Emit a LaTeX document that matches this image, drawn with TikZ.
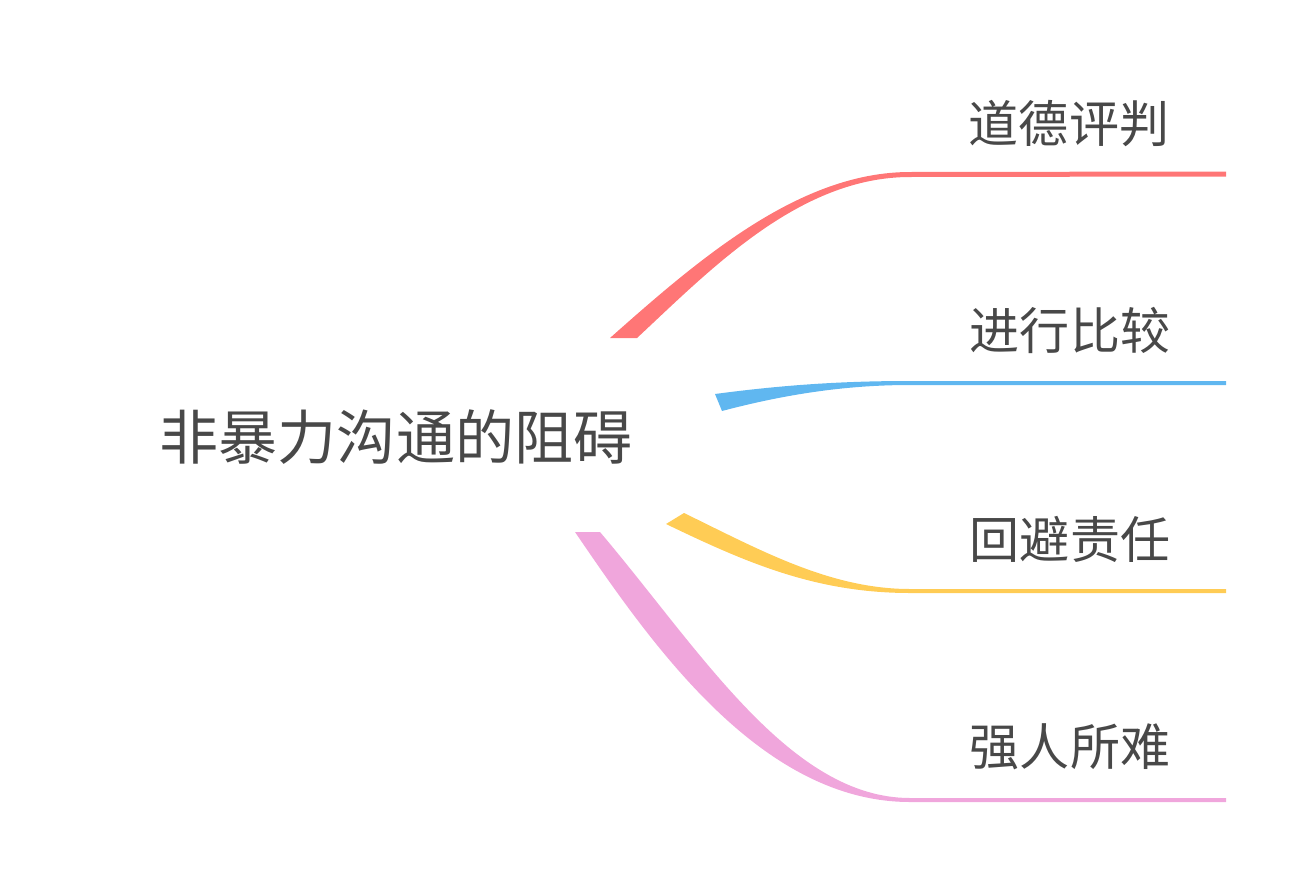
\documentclass[tikz,border=0pt]{standalone}
\usepackage{fontspec}
\setmainfont{Noto Sans CJK SC}
\usepackage{xcolor}
\usetikzlibrary{positioning}

\definecolor{txtgray}{HTML}{484848}
\definecolor{brred}{HTML}{FF7676}
\definecolor{brblue}{HTML}{60B7F0}
\definecolor{bryellow}{HTML}{FFCC55}
\definecolor{brpink}{HTML}{F0A6DC}

\begin{document}
\begin{tikzpicture}[
    x=0.03cm, y=-0.03cm,
    root/.style={inner sep=0pt, text=txtgray, font=\fontsize{50.4pt}{52pt}\selectfont},
    leaf/.style={inner sep=0pt, text=txtgray, font=\fontsize{42.7pt}{44pt}\selectfont},
    ribbon/.style={fill=#1, draw=none}
]
    \useasboundingbox (0,0) rectangle (1295,869);

    \node[root] (center) at (396,437) {非暴力沟通的阻碍};
    \node[leaf] (moral) at (1069,124) {道德评判};
    \node[leaf] (compare) at (1070,330) {进行比较};
    \node[leaf] (avoid) at (1070,539) {回避责任};
    \node[leaf] (force) at (1070,747) {强人所难};

    % ends of the branch lines under each label
    \coordinate (moralend) at (1226,174);
    \coordinate (compareend) at (1226,383);
    \coordinate (avoidend) at (1226,591);
    \coordinate (forceend) at (1226,800);

    % tapered branches
    \fill[ribbon=brred] (610,338) .. controls (700,258) and (800,172) .. (910,172)
        -- ([yshift=2.5*0.03cm]moralend) -- ([yshift=-2.5*0.03cm]moralend) -- (910,177)
        .. controls (800,177) and (712,268) .. (637,338) -- cycle;
    \fill[ribbon=brblue] (715,394) .. controls (790,384) and (850,381) .. (910,381)
        -- ([yshift=2*0.03cm]compareend) -- ([yshift=-2*0.03cm]compareend) -- (910,385)
        .. controls (850,385) and (790,393) .. (722,411) -- cycle;
    \fill[ribbon=bryellow] (684,513) .. controls (760,550) and (830,589) .. (910,589)
        -- ([yshift=2*0.03cm]avoidend) -- ([yshift=-2*0.03cm]avoidend) -- (910,593)
        .. controls (815,593) and (745,562) .. (666,524) -- cycle;
    \fill[ribbon=brpink] (600,532) .. controls (700,650) and (790,798) .. (910,798)
        -- ([yshift=2*0.03cm]forceend) -- ([yshift=-2*0.03cm]forceend) -- (910,802)
        .. controls (760,802) and (650,642) .. (575,532) -- cycle;
\end{tikzpicture}
\end{document}
